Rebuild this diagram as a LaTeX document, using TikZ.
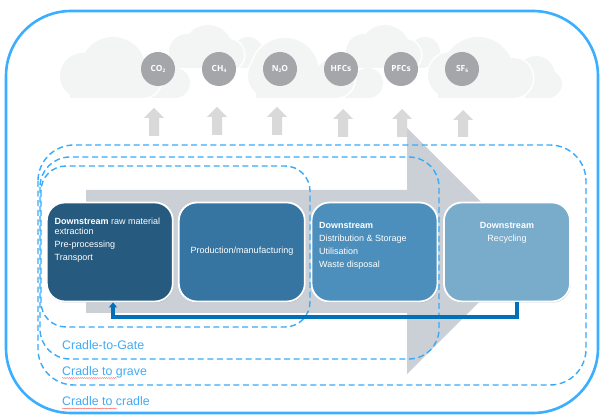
\documentclass[tikz,border=0pt]{standalone}
\usepackage{fontspec}
\setmainfont{Liberation Sans}
\newfontfamily\gasfont{Open Sans}
\usetikzlibrary{arrows.meta,shadows,decorations.pathmorphing}
\definecolor{frameblue}{HTML}{3AAEFF}
\definecolor{dashblue}{HTML}{36ABFB}
\definecolor{labelblue}{HTML}{41ABF5}
\definecolor{flowgrey}{HTML}{CBCFD6}
\definecolor{cloudgrey}{HTML}{F3F5F5}
\definecolor{gasgrey}{HTML}{A5A6A9}
\definecolor{upgrey}{HTML}{D9D9D9}
\definecolor{fbblue}{HTML}{0070B8}
\definecolor{boxA}{HTML}{265B7F}
\definecolor{boxB}{HTML}{3675A1}
\definecolor{boxC}{HTML}{4C8FBC}
\definecolor{boxD}{HTML}{79ABCB}
\tikzset{
  stagebox/.style={draw=white,line width=1.8pt,rounded corners=18pt,minimum width=126pt,minimum height=99pt,inner sep=0pt,
    drop shadow={shadow xshift=0.6pt,shadow yshift=-1pt,opacity=.3,fill=black}},
  stagetext/.style={text=white,inner sep=0pt,font=\fontsize{9}{10}\selectfont},
  gas/.style={circle,fill=gasgrey,text=white,minimum width=34pt,inner sep=0pt,font=\gasfont\bfseries\fontsize{8.4}{9}\selectfont},
  scopeline/.style={draw=dashblue,line width=1.4pt,dash pattern=on 6pt off 3.6pt},
  scopelabel/.style={text=labelblue,anchor=base west,inner sep=0pt,font=\fontsize{12.4}{14}\selectfont},
  squiggle/.style={draw=red!70!white,line width=.35pt,decorate,decoration={snake,amplitude=.5pt,segment length=2.2pt}},
  feedback/.style={draw=fbblue,line width=3.4pt}
}
% #1 circles x/y/r, #2 left, #3 top, #4 right, #5 bottom of the flat base
\newcommand{\puff}[5]{%
  \foreach \cx/\cy/\cr in {#1} {\draw[white,line width=3pt] (\cx,\cy) circle[radius=\cr];}%
  \draw[white,line width=3pt] (#2,#3) rectangle (#4,#5);%
  \foreach \cx/\cy/\cr in {#1} {\fill[cloudgrey] (\cx,\cy) circle[radius=\cr];}%
  \fill[cloudgrey] (#2,#3) rectangle (#4,#5);%
}
\newcommand{\uparrowat}[3]{%
  \fill[upgrey] (#1-5,#3) -- (#1-5,#2+10) -- (#1-10,#2+10) -- (#1,#2) -- (#1+10,#2+10) -- (#1+5,#2+10) -- (#1+5,#3) -- cycle;%
}
\newcommand{\gasname}[2]{#1{\fontsize{4.8}{5}\selectfont\raisebox{-1pt}{#2}}}
\begin{document}
\begin{tikzpicture}[x=1pt,y=-1pt]
\useasboundingbox (0,0) rectangle (605,419);
\fill[white] (0,0) rectangle (605,419);

% clouds
\begin{scope}
  \clip (0,0) rectangle (605,98);
  % first cloud
  \puff{175/83/15}{150}{84}{175}{105}
  \puff{83/76/23, 113/70/33, 142/78/20}{70}{76}{142}{105}
  % second (upper) cloud
  \puff{248/52/15}{238}{52}{248}{68}
  \begin{scope}
    \clip (0,0) rectangle (605,68);
    \puff{187/52/18, 208/50/25, 228/55/16}{172}{52}{232}{80}
  \end{scope}
  % third cloud
  \puff{368/83/15}{345}{84}{368}{105}
  \puff{270/76/22, 285/72/34, 335/78/20}{256}{76}{335}{105}
  % fourth (upper) cloud
  \puff{425/52/15}{415}{52}{425}{68}
  \begin{scope}
    \clip (0,0) rectangle (605,68);
    \puff{364/52/18, 385/50/25, 405/55/16}{349}{52}{409}{80}
  \end{scope}
  % fifth cloud
  \puff{536/75/19, 548/84/14}{525}{80}{548}{105}
  \puff{451/75/23, 478/73/36, 513/78/20}{438}{76}{513}{105}
\end{scope}

% greenhouse gases
\node[gas] (co2) at (158,69) {\gasname{CO}{2}};
\node[gas] (ch4) at (219,69) {\gasname{CH}{4}};
\node[gas] (n2o) at (280,69) {N\raisebox{-1pt}{\fontsize{4.8}{5}\selectfont 2}O};
\node[gas] (hfc) at (341,69) {HFCs};
\node[gas] (pfc) at (401,69) {PFCs};
\node[gas] (sf6) at (462,69) {\gasname{SF}{6}};

% emission arrows
\uparrowat{154}{108}{136}
\uparrowat{217}{107}{135}
\uparrowat{277}{107}{135}
\uparrowat{343}{109}{137}
\uparrowat{402}{109}{137}
\uparrowat{463}{110}{137}

% flow arrow
\fill[flowgrey] (86,190) -- (407,190) -- (407,128) -- (530,251) -- (407,374) -- (407,313) -- (86,313) -- cycle;

% stages
\node[stagebox,fill=boxA] (box1) at (109.8,252) {};
\node[stagebox,fill=boxB] (box2) at (241.8,252) {};
\node[stagebox,fill=boxC] (box3) at (374.5,252) {};
\node[stagebox,fill=boxD] (box4) at (507,252) {};

\node[stagetext,anchor=north west,align=left] (t1) at (54.5,217.5) {\textbf{Downstream} raw material\\extraction\\[3pt]Pre-processing\\[3pt]Transport};
\node[stagetext] (t2) at (242,251) {Production/manufacturing};
\node[stagetext,anchor=north west,align=left] (t3) at (319,222) {\textbf{Downstream}\\[3pt]Distribution \& Storage\\[3pt]Utilisation\\[3pt]Waste disposal};
\node[stagetext,anchor=north,align=center] (t4) at (507,222) {\textbf{Downstream}\\[3pt]Recycling};

% scope outlines
\draw[scopeline,rounded corners=25pt] (41,166) rectangle (310,327);
\draw[scopeline,rounded corners=30pt] (40,157) rectangle (439,359);
\draw[scopeline,rounded corners=36pt] (38,145) rectangle (586,385);

% recycling loop
\coordinate (loopr) at (517,317);
\coordinate (loopl) at (113,317);
\draw[feedback,-{Triangle[length=5pt,width=8pt]}] (box4.south -| loopr) -- (loopr) -- (loopl) -- (box1.south -| loopl);

% labels
\node[scopelabel] (gate) at (62,350) {Cradle-to-Gate};
\node[scopelabel] (grave) at (62,376) {Cradle to grave};
\node[scopelabel] (cradle) at (62,406) {Cradle to cradle};
\draw[squiggle] (62,378) -- (117,378);
\draw[squiggle] (62,408.5) -- (117,408.5);

% outer frame
\draw[frameblue,line width=2.6pt,rounded corners=65pt] (6,11) rectangle (598,413);
\end{tikzpicture}
\end{document}
